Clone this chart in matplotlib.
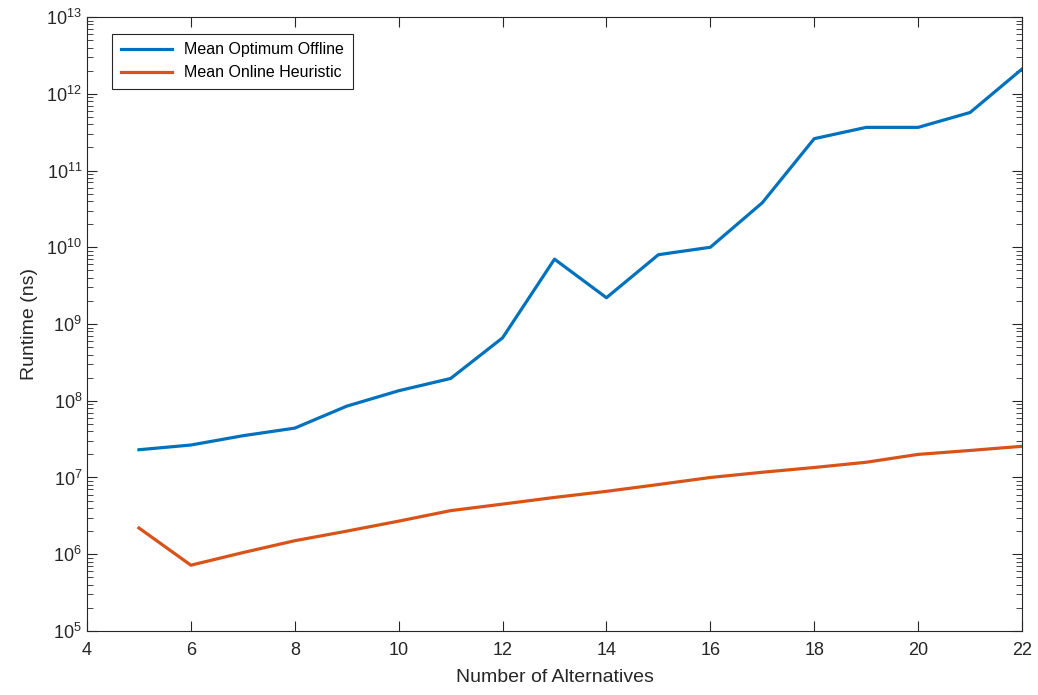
import matplotlib
matplotlib.use('Agg')
import matplotlib.pyplot as plt
import numpy as np
from matplotlib.ticker import LogLocator, NullFormatter

plt.rcParams['font.family'] = ['Liberation Sans', 'DejaVu Sans']

# data
alternatives = [5, 6, 7, 8, 9, 10, 11, 12, 13, 14, 15, 16, 17, 18, 19, 20, 21, 22]
optimum_offline = [2.3e7, 2.65e7, 3.5e7, 4.4e7, 8.5e7, 1.35e8, 1.95e8, 6.6e8, 7.0e9, 2.2e9,
                   8.0e9, 1.0e10, 3.8e10, 2.6e11, 3.65e11, 3.65e11, 5.7e11, 2.1e12]
online_heuristic = [2.2e6, 7.2e5, 1.05e6, 1.5e6, 2.0e6, 2.7e6, 3.7e6, 4.5e6, 5.5e6, 6.6e6,
                    8.1e6, 1.0e7, 1.17e7, 1.35e7, 1.58e7, 2.0e7, 2.25e7, 2.55e7]

fig = plt.figure(figsize=(10.38, 6.95), dpi=100)
ax = fig.add_axes([0.0838, 0.0921, 0.9008, 0.8834])

ax.plot(alternatives, optimum_offline, color='#0072BD', lw=2.3, label='Mean Optimum Offline')
ax.plot(alternatives, online_heuristic, color='#D95319', lw=2.3, label='Mean Online Heuristic')

ax.set_yscale('log')
ax.set_xlim(4, 22)
ax.set_ylim(1e5, 1e13)
ax.set_xticks(range(4, 23, 2))
ax.yaxis.set_major_locator(LogLocator(base=10, numticks=20))
ax.yaxis.set_minor_locator(LogLocator(base=10, subs=np.arange(2, 10), numticks=100))
ax.yaxis.set_minor_formatter(NullFormatter())

ax.tick_params(which='both', direction='in', top=True, right=True, labelsize=13, colors='#262626')
ax.tick_params(which='major', length=7, width=0.8)
ax.tick_params(which='minor', length=4, width=0.6)
ax.tick_params(axis='x', pad=8)
for s in ax.spines.values():
    s.set_color('#262626')
    s.set_linewidth(0.8)

ax.set_xlabel('Number of Alternatives', fontsize=14, color='#262626', labelpad=7)
ax.set_ylabel('Runtime (ns)', fontsize=14, color='#262626', labelpad=6)

leg = ax.legend(loc='upper left', bbox_to_anchor=(0.018, 0.986), fontsize=11.5, fancybox=False,
                edgecolor='#262626', framealpha=1, handlelength=3.2, borderpad=0.55)
leg.get_frame().set_linewidth(0.8)

plt.savefig('out.png', dpi=100)
